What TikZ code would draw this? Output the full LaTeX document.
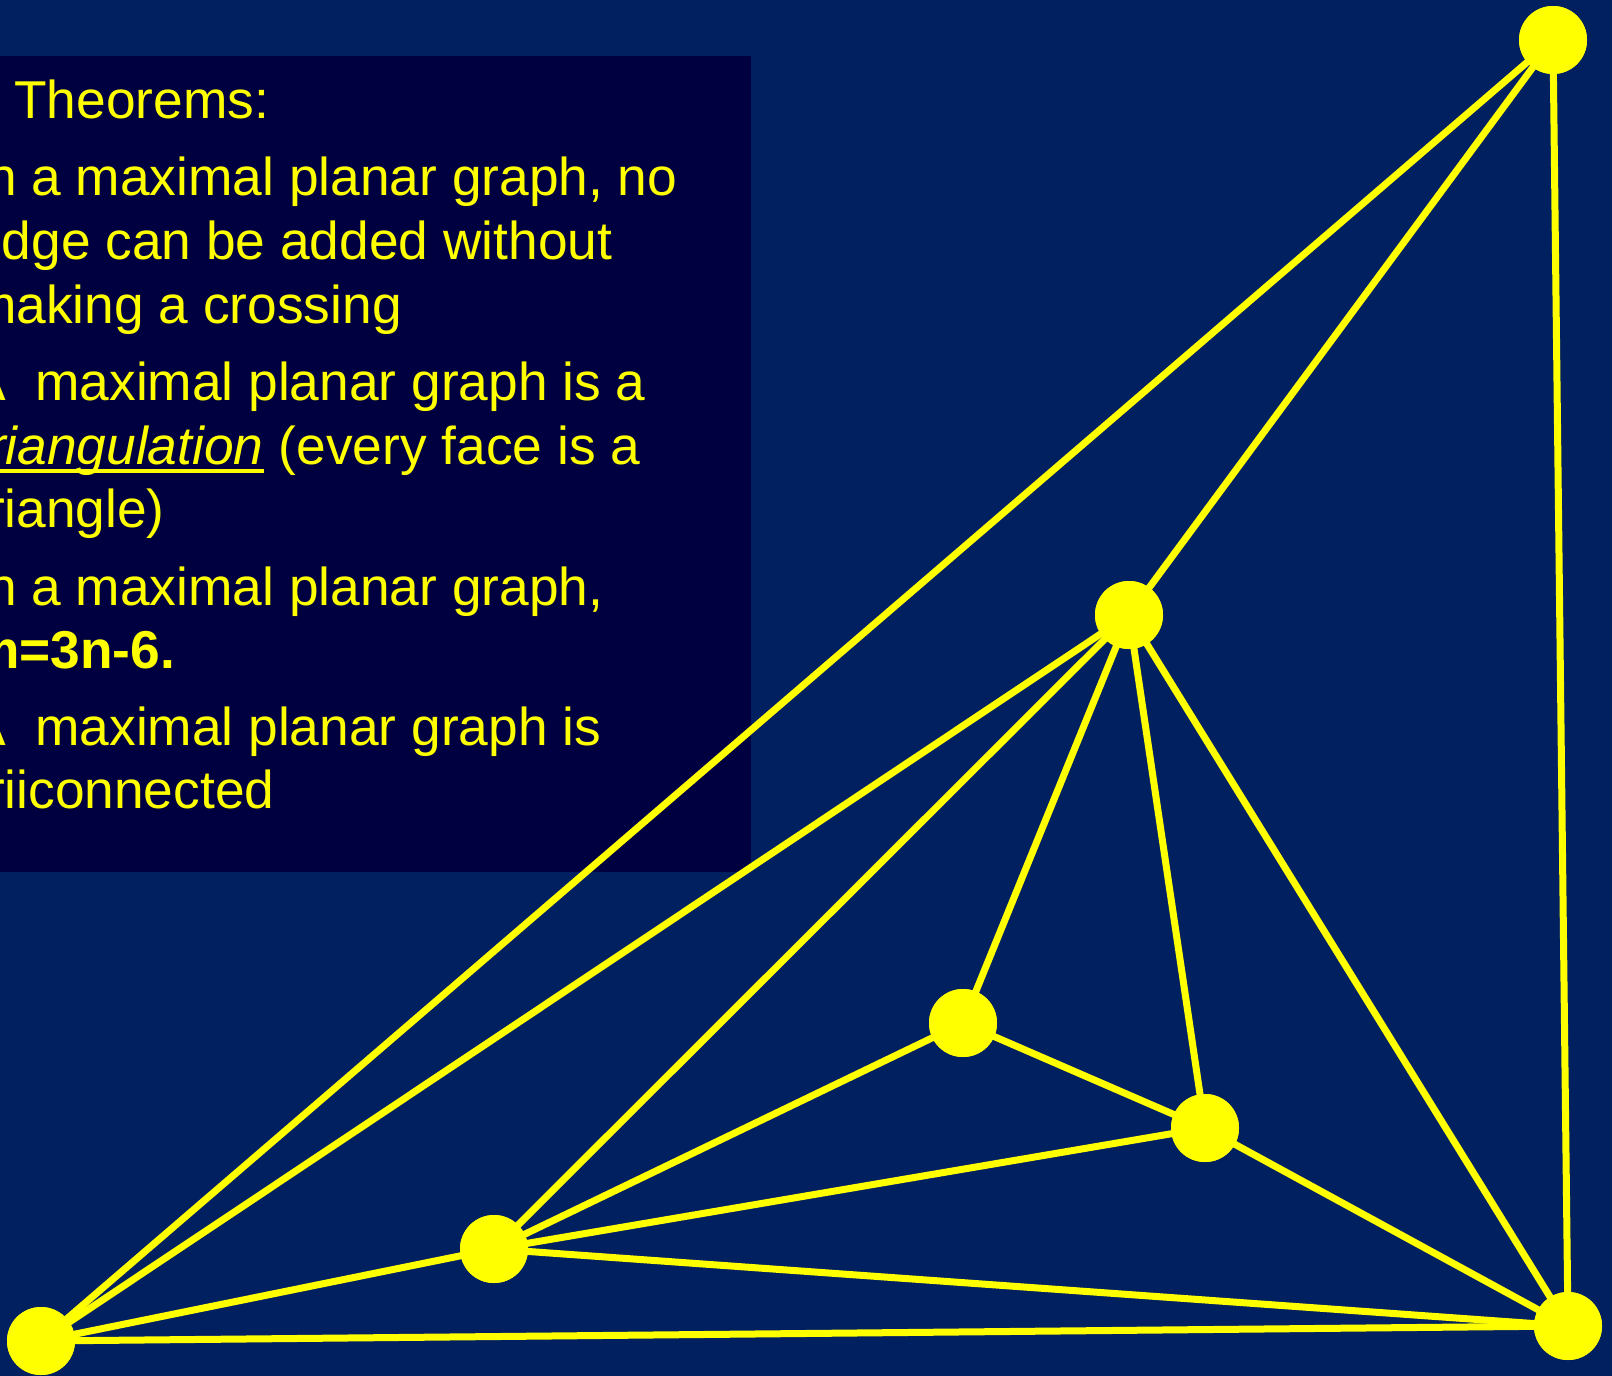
\documentclass[tikz,border=0pt]{standalone}
\usepackage{fontspec}
\setmainfont{Liberation Sans}
\definecolor{bg}{RGB}{0,32,96}
\definecolor{boxc}{RGB}{0,0,64}
\definecolor{yel}{RGB}{255,255,0}
\begin{document}
\begin{tikzpicture}[x=1pt,y=-1pt,
  vtx/.style={circle,fill=yel,inner sep=0pt,minimum size=68pt},
  gedge/.style={draw=yel,line width=7pt},
  txt/.style={anchor=base west,inner sep=0pt,text=yel,font=\fontsize{53.3}{64}\selectfont}]
\fill[bg] (0,0) rectangle (1612,1376);
\useasboundingbox (0,0) rectangle (1612,1376);
\begin{scope}
\clip (0,0) rectangle (1612,1376);
\fill[boxc] (0,56) rectangle (751,872);
\node[txt] (t0) at (14,118) {Theorems:};
\node[txt] (t1) at (-28,195) {In a maximal planar graph, no};
\node[txt] (t2) at (-28,259) {edge can be added without};
\node[txt] (t3) at (-28,323) {making a crossing};
\node[txt] (t4) at (-30,400) {A\ \ maximal planar graph is a};
\node[txt] (t5) at (-27,464) {\itshape triangulation};
\node[txt] (t5b) at (t5.base east) {\ (every face is a};
\draw[yel,line width=3.5pt] ([yshift=-7pt]t5.base west) -- ([yshift=-7pt]t5.base east);
\node[txt] (t6) at (-28,527) {triangle)};
\node[txt] (t7) at (-28,605) {In a maximal planar graph,};
\node[txt] (t8) at (-28,668) {\bfseries m=3n-6.};
\node[txt] (t9) at (-30,745) {A\ \ maximal planar graph is};
\node[txt] (t10) at (-28,808) {triiconnected};
\end{scope}
\node[vtx] (tr) at (1553,40) {};
\node[vtx] (a) at (1129,615) {};
\node[vtx] (b) at (963,1023) {};
\node[vtx] (c) at (1205,1128) {};
\node[vtx] (d) at (494,1249) {};
\node[vtx] (bl) at (41,1341) {};
\node[vtx] (br) at (1568,1326) {};
\foreach \u/\v in {tr/bl,tr/a,tr/br,a/bl,a/d,a/b,a/c,a/br,b/d,b/c,c/d,c/br,d/bl,d/br,bl/br}
  \draw[gedge] (\u.center) -- (\v.center);
\foreach \n in {tr,a,b,c,d,bl,br}
  \fill[yel] (\n) circle (34pt);
\end{tikzpicture}
\end{document}
